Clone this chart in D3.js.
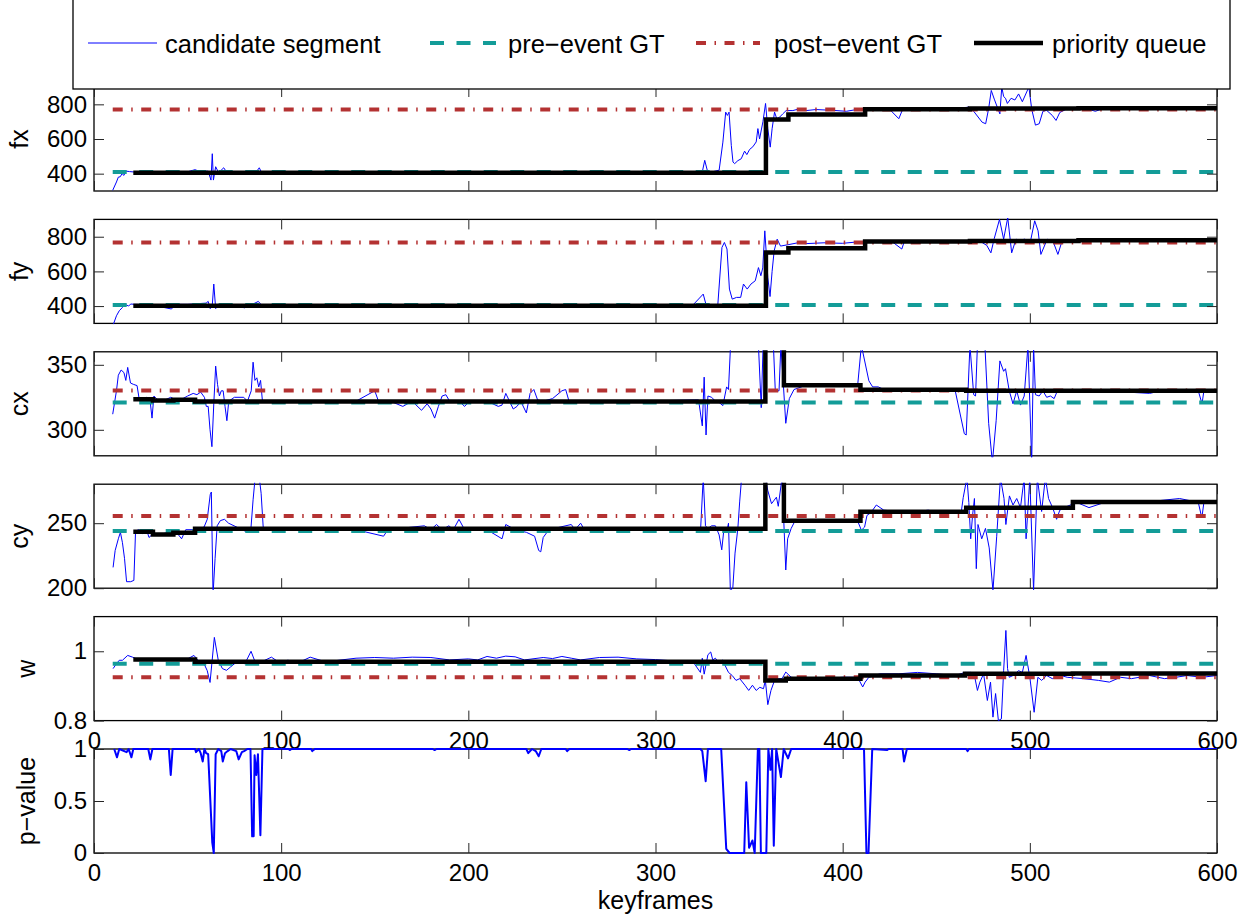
<!DOCTYPE html>
<html><head><meta charset="utf-8">
<script src="https://cdn.jsdelivr.net/npm/d3@7"></script>
<style>
body{margin:0;background:#fff;}
svg{display:block;}
text{font-family:"Liberation Sans",Arial,Helvetica,sans-serif;fill:#000;}
</style>
</head><body>
<svg id="chart" width="1248" height="918"></svg>
<script>
// ---------------- DATA ----------------
const xTicks = [0, 100, 200, 300, 400, 500, 600];
const panelNames = ["fx", "fy", "cx", "cy", "w", "p\u2212value"];
const yDomains = [[300, 900], [300, 900], [280, 360], [200, 280], [0.8, 1.1], [0, 1]];
const yTicks = [[400, 600, 800], [400, 600, 800], [300, 350], [200, 250], [0.8, 1], [0, 0.5, 1]];
const gtRange = [10, 600];
const preGT = [410, 406, 321, 244, 0.964];
const postGT = [770, 767, 330.2, 255.6, 0.925];
const legendLabels = ["candidate segment", "pre\u2212event GT", "post\u2212event GT", "priority queue"];

const candFx = [[10,304],[12,352],[13,380],[14,382],[15,400],[16,390],[17,415],[19,412],[21,410],[30,408],[40,410],[50,411],[54,423],[57,410],[61,415],[62,380],[62.5,363],[63.2,515],[63.8,363],[65,440],[66.4,410],[67.5,415],[69.3,434],[70.8,410],[75,412],[78.4,410],[80.6,405],[83.9,415],[86,400],[88.3,434],[89.3,412],[92,408],[120,410],[160,409],[200,410],[240,409],[280,410],[300,410],[320,409],[325,410],[326.3,477],[328,405],[334,420],[336,582],[337.5,755],[338.4,736],[339.3,755],[340.5,563],[341.4,467],[342.3,458],[344,475],[345.8,486],[347.6,530],[348.8,510],[350.3,540],[352,555],[353.8,583],[354.7,660],[355.6,600],[357.4,700],[358.8,805],[360,659],[361.3,553],[362.3,659],[363.6,755],[364.8,717],[366.3,726],[368,745],[369.8,764],[373.4,764],[376.9,774],[380.5,764],[385.8,770],[395,765],[402,760],[409.8,774],[416,778],[419.5,778],[425,772],[430,717],[432,770],[440,766],[450,772],[460,776],[462,778],[467.5,784],[470,760],[474.5,697],[476.4,688],[478,776],[479.4,880],[481,830],[482.6,784],[484,745],[485,900],[486,845],[487,835],[488,805],[490,835],[492,825],[494,860],[496,815],[499.5,900],[501,772],[503,680],[505,688],[507,760],[509,765],[512,736],[514,707],[516,753],[520,775],[530,776],[535,760],[540,778],[560,776],[580,780],[590,776],[600,778]];

const candFy = [[10.4,296],[12,344],[13.5,373],[15.2,392],[16.3,411],[18.5,400],[19.6,412],[21.7,410],[30,408],[41.4,383],[43.5,410],[50,410],[59.9,417],[61,427],[62.1,385],[63.2,405],[64,527],[65,385],[66.4,410],[69.3,405],[74,402],[80.6,390],[82.8,405],[86,417],[87.8,427],[89.3,408],[92,405],[120,406],[160,405],[200,406],[250,405],[290,406],[320,406],[325.5,469],[327,408],[333.3,408],[335.5,738],[336.8,767],[338.2,729],[339.5,498],[341,440],[343.3,450],[345.5,450],[347,527],[349,498],[351,527],[353.3,546],[355,622],[356.3,575],[357.3,620],[358.4,834],[360,565],[361.2,455],[362.3,600],[363.4,719],[365,786],[366.8,746],[371.3,755],[376,765],[380,760],[390,765],[400,762],[412.6,775],[421.6,778],[426,775],[431.6,729],[433,775],[450,775],[470.1,775],[474,770],[477,750],[479.2,707],[481,790],[483.8,900],[486,786],[488.2,910],[490.3,707],[492.6,786],[494.8,777],[497,786],[500.4,777],[502.6,892],[504.4,834],[505.9,698],[509.3,786],[512.7,765],[515,698],[517.2,775],[534,775],[560,778],[583,790],[585,778],[600,778]];

const candCx = [[10,312],[12,330],[13,342],[14.5,346],[16,344],[17,338],[18,348],[19.5,336],[21,335],[23,334],[24,325],[26,323],[28,325],[30,322],[31,309],[32,326],[34,323],[38,323],[41,325],[45,322],[50,326],[53,328],[55,327],[57,329],[59,325],[60,318],[61,318],[62,300],[63,287],[64,320],[65,349],[66,335],[67,326],[68,330],[69,330],[70,318],[71,307],[72,322],[75,325],[80,325],[82,322],[84,330],[85,352],[86,338],[87,340],[88,333],[89,338],[90,322],[100,322],[120,321],[140,322],[150,330],[152,322],[160,321],[165,318],[170,322],[175,315],[178,320],[180,316],[182,309],[184,318],[186,326],[188,327],[190,322],[195,322],[198,318],[200,321],[210,322],[216,318],[218,319],[220,328],[222,322],[224,316],[226,318],[228,322],[231,313],[233,328],[235,331],[237,323],[240,322],[245,324],[250,330],[252,331],[254,321],[260,322],[280,321],[292,322],[321,323],[323,323],[325,303],[326,340.5],[327,296],[328,326],[330,325],[332,322],[334,321],[336,318.6],[338,333],[339,331],[340,362],[342.5,365],[350,365],[355,365],[356.5,317],[357.5,365],[360,365],[363,365],[364,330],[366,330],[367,365],[369.6,305],[371.5,324],[374,331],[378,333],[381,335],[390,334],[400,334],[408,334],[410,365],[414,337.7],[416,333],[419,333],[422,331],[430,331],[450,330.5],[460,331],[465,297],[466,296],[468,365],[470,327],[471,326],[472,365],[476,365],[478,305],[480,275],[482,307],[484,353],[486,345],[487,347],[489,330],[491,320],[493,330],[495,319],[497,326],[499,365],[501,275],[502,365],[503,327],[505,326],[507,330],[509,325],[511,326],[513,324],[515,331],[520,330.5],[540,330],[564,328],[570,330],[580,329],[590,330],[592,320],[593,330],[600,330]];

const candCy = [[10.2,216],[11.3,229],[13,238],[14.1,243],[15.2,235],[16.3,223],[17.4,205],[19.6,205],[21.3,206],[22.2,244],[23.9,245],[26,242],[28.3,244],[29.4,239],[31.6,242],[37,242],[43.5,244],[46.8,238],[49,245],[54.5,245],[58.8,247],[60.5,253],[62.1,272],[62.7,274],[63.6,195],[64.7,223],[65.8,248],[67.5,252],[69.7,253],[71.9,250],[80.6,244],[82.8,243],[83.9,247],[85,268],[86.1,285],[88.3,285],[89.3,273],[90.4,247],[91.5,246],[100,245],[120,245],[140,245],[154.7,240],[157,245],[176.5,248],[180,245],[183,249],[186,245],[189.6,248],[192,245],[195,253],[198,245],[210,245],[218,238],[220,249],[225,245],[231,243],[235.4,240],[237.6,229],[238.7,228],[240,239],[243,245],[255,249],[257,245],[260,250],[262,245],[280,245],[292,246],[323,246],[324,242.6],[325.5,285],[326.7,248],[328,246],[330,248],[332,248],[334,241],[335.4,229.5],[336.6,246],[338,243],[339,250],[340,198],[341.3,200],[342.5,227],[344,246],[345,267],[346,285],[358.7,285],[360,275],[362,265],[364.6,270],[365.6,263],[367.6,285],[369.6,214],[370.6,238],[372.5,246],[374.5,251.7],[380,251.7],[400,251.7],[408,251.7],[410,244.6],[411.7,247],[413,256],[415,258],[418,264],[420,262],[422,260],[430,259],[433.8,258],[445.7,260],[450,259],[463.4,259],[464.4,269.6],[466.4,285],[467.4,266],[468.4,238],[469.4,256],[470.4,269],[471.4,215],[472.3,249],[474.3,238],[476.3,246],[478.3,231],[480.3,198],[482.3,240],[484.3,285],[486.2,269],[487.2,249],[489.1,271],[491,264],[493,269],[495,262],[497,285],[498,238],[500,285],[502,198],[504,285],[506.3,259],[508.3,285],[510,269],[512.3,261.5],[514.3,253],[516,260],[520,263],[525,266],[531.6,262],[540,266],[560,266],[580,269],[590,266],[591.9,254],[593,266],[600,266]];

const candW = [[10.2,0.95],[12,0.964],[13.5,0.974],[15.2,0.974],[18,0.988],[20.6,0.983],[22.8,0.978],[30,0.978],[35,0.976],[40,0.979],[45,0.977],[50,0.978],[53.4,0.988],[55.5,0.974],[58.8,0.964],[60.5,0.944],[62,0.91],[64.3,1.04],[66.4,0.974],[68.6,0.95],[70.8,0.945],[73,0.955],[76.2,0.969],[80.6,0.964],[83.9,1.0],[86.1,0.969],[89.3,0.969],[94.8,0.983],[100,0.964],[103.5,0.974],[110,0.969],[115.5,0.983],[124,0.969],[130.7,0.974],[140,0.98],[150,0.982],[160,0.98],[170,0.983],[180,0.982],[190,0.975],[200,0.978],[205,0.975],[210,0.985],[215,0.98],[220,0.986],[225,0.984],[230,0.975],[240,0.982],[245,0.979],[250,0.985],[255,0.98],[260,0.975],[270,0.982],[280,0.983],[290,0.978],[300,0.976],[310,0.972],[320,0.97],[324,0.939],[325,0.98],[326,0.934],[328,0.99],[329.5,0.998],[330.6,0.975],[332,0.98],[334,0.965],[336,0.975],[337,0.961],[339,0.939],[341,0.93],[343,0.916],[345,0.921],[347.8,0.902],[349.8,0.887],[351.8,0.902],[353.8,0.887],[355.7,0.896],[357.7,0.892],[358.7,0.916],[360,0.846],[361.7,0.887],[363.6,0.916],[365.6,0.921],[367.6,0.921],[369.6,0.94],[372.5,0.925],[378.5,0.921],[390,0.921],[400,0.925],[408,0.925],[410.7,0.897],[412,0.911],[414,0.925],[420,0.935],[430,0.935],[440,0.939],[450,0.935],[460,0.93],[465.4,0.939],[468.4,0.939],[470.4,0.93],[472,0.887],[473.3,0.911],[475.3,0.935],[477.3,0.858],[479,0.911],[480.3,0.81],[481.7,0.878],[483.2,0.8],[484.8,0.805],[486,0.944],[487.2,1.06],[488.1,0.95],[489,0.925],[491,0.93],[494,0.944],[496,0.939],[498,0.988],[500,0.925],[502.3,0.824],[504.3,0.925],[506.3,0.916],[509,0.93],[512,0.921],[516.7,0.93],[520,0.925],[528.7,0.921],[536.6,0.916],[542.5,0.911],[548.4,0.925],[554.3,0.921],[564,0.93],[572,0.921],[578,0.925],[584,0.93],[592,0.925],[600,0.93]];

const pValue = [[10.8,1],[12.3,0.92],[13.5,1],[17.4,0.97],[18.5,1],[20,0.92],[21,1],[29,1],[30.1,0.9],[31.2,1],[40,1],[41,0.75],[42,1],[54,1],[54.5,0.97],[56,1],[57,0.96],[58.1,0.88],[59,1],[59.9,0.96],[61,0.95],[63.2,0.1],[64,0],[65,0.95],[66.4,1],[68,0.98],[68.8,0.88],[70,0.96],[71.4,0.98],[73,1],[76,0.98],[77.3,0.9],[79,0.97],[80.2,0.98],[82,1],[83.6,1],[84.5,0.16],[85.3,0.16],[85.8,0.94],[86.7,0.75],[87.6,0.95],[88.9,0.17],[90,1],[104,1],[104.6,0.99],[105.5,1],[116,1],[116.6,0.98],[118,1],[181,1],[182,0.99],[183,1],[231,1],[232,0.96],[234,1],[236,0.98],[237.6,0.93],[239,1],[252,1],[252.8,0.98],[254,1],[285,1],[286,0.99],[287,1],[324,1],[325,0.98],[326.8,0.69],[328,1],[335.1,1],[337.8,0.04],[339.6,0],[347.4,0],[348.5,0.68],[350,0.05],[351.8,0.12],[353,0],[354.7,1],[355.5,1],[356.3,0],[359.2,0],[360.3,1],[361.4,0.8],[362.3,1],[363.2,0.07],[364.5,1],[367,0.73],[368.5,1],[370.8,0.91],[372.5,1],[411.4,1],[412.7,0],[413.8,0],[415.8,1],[423.8,0.99],[424.5,1],[432,1],[432.8,0.88],[434.3,1],[466,1],[466.7,0.98],[467.5,1],[600,1]];

const pqFx = [[21,405],[359,713],[371,741],[412,772],[468,776],[526,778],[600,778]];
const pqFy = [[21,402],[359,709],[371,734],[412,772],[468,776],[526,780],[600,780]];
const pqCx = [[21,323.5],[31.5,322.5],[42.4,323.2],[54,321.8],[358.7,375],[368.6,334.3],[409.5,330.8],[466,330],[600,330]];
const pqCy = [[21,243.4],[31.5,241.3],[42.4,242.6],[54,245.7],[358.7,295],[368.6,251.8],[409.5,258.8],[466,261.8],[523,266.4],[600,266.4]];
const pqW = [[21,0.976],[54,0.970],[358.7,0.916],[369.6,0.921],[409.5,0.930],[465.4,0.935],[523,0.936],[600,0.936]];

// ---------------- LAYOUT / STYLE ----------------
const W = 1248, H = 918;
const plotLeft = 94, plotRight = 1217;
const panelTop0 = 87, panelStep = 132.4, panelH = 104;
const tickLen = 10;
const fontSize = 24;
const C_BLUE = "#0000ff", C_TEAL = "#139c98", C_RED = "#b43232", C_BLACK = "#000";
const DASH_TEAL = "14,12.5", DASH_RED = "10,8.5,1.5,8.5";

const cands = [candFx, candFy, candCx, candCy, candW];
const pqs = [pqFx, pqFy, pqCx, pqCy, pqW];

const svg = d3.select("#chart");
svg.append("rect").attr("width", W).attr("height", H).attr("fill", "#fff");

const x = d3.scaleLinear().domain([0, 600]).range([plotLeft, plotRight]);
const fmt = d => String(d);

panelNames.forEach((name, i) => {
  const top = panelTop0 + i * panelStep;
  const bottom = top + panelH;
  const y = d3.scaleLinear().domain(yDomains[i]).range([bottom, top]);
  const g = svg.append("g");

  // frame first, data drawn over it (lines at the limits cover the border)
  g.append("rect").attr("x", plotLeft).attr("y", top)
    .attr("width", plotRight - plotLeft).attr("height", panelH)
    .attr("fill", "none").attr("stroke", "#000").attr("stroke-width", 1.3);

  svg.append("clipPath").attr("id", "clip" + i)
    .append("rect").attr("x", plotLeft).attr("y", top - 1.5)
    .attr("width", plotRight - plotLeft).attr("height", panelH + 3);

  const data = g.append("g").attr("clip-path", `url(#clip${i})`);
  const line = d3.line().x(d => x(d[0])).y(d => y(d[1]));

  if (i < 5) {
    data.append("path").datum(cands[i]).attr("d", line)
      .attr("fill", "none").attr("stroke", C_BLUE).attr("stroke-width", 1)
      .attr("stroke-linejoin", "round");
    data.append("path").datum(gtRange.map(k => [k, preGT[i]])).attr("d", line)
      .attr("fill", "none").attr("stroke", C_TEAL).attr("stroke-width", 4)
      .attr("stroke-dasharray", DASH_TEAL);
    data.append("path").datum(gtRange.map(k => [k, postGT[i]])).attr("d", line)
      .attr("fill", "none").attr("stroke", C_RED).attr("stroke-width", 4)
      .attr("stroke-dasharray", DASH_RED);
    data.append("path").datum(pqs[i]).attr("d", line.curve(d3.curveStepAfter))
      .attr("fill", "none").attr("stroke", C_BLACK).attr("stroke-width", 4.5);
  } else {
    data.append("path").datum(pValue).attr("d", line)
      .attr("fill", "none").attr("stroke", C_BLUE).attr("stroke-width", 2)
      .attr("stroke-linejoin", "round");
  }

  // axes (MATLAB style inward ticks, mirrored)
  const showX = (i >= 4);
  const left = g.append("g").attr("transform", `translate(${plotLeft},0)`)
    .call(d3.axisLeft(y).tickValues(yTicks[i]).tickFormat(fmt).tickSize(-tickLen).tickSizeOuter(0).tickPadding(7));
  const right = g.append("g").attr("transform", `translate(${plotRight},0)`)
    .call(d3.axisRight(y).tickValues(yTicks[i]).tickFormat("").tickSize(-tickLen).tickSizeOuter(0));
  const topAx = g.append("g").attr("transform", `translate(0,${top})`)
    .call(d3.axisTop(x).tickValues(xTicks).tickFormat("").tickSize(-tickLen).tickSizeOuter(0));
  const botAx = g.append("g").attr("transform", `translate(0,${bottom})`)
    .call(d3.axisBottom(x).tickValues(xTicks).tickFormat(showX ? fmt : "").tickSize(-tickLen).tickSizeOuter(0).tickPadding(11));
  [left, right, topAx, botAx].forEach(a => {
    a.select(".domain").remove();
    a.selectAll(".tick line").attr("stroke", "#262626").attr("stroke-width", 1);
    a.selectAll("text").attr("font-size", fontSize).attr("font-family", '"Liberation Sans",Arial,sans-serif').attr("fill", "#000");
  });

  // y label positioned left of the widest tick label
  let maxW = 0;
  left.selectAll("text").each(function () { maxW = Math.max(maxW, this.getComputedTextLength()); });
  const lx = plotLeft - 7 - maxW - 19;
  g.append("text").attr("transform", `translate(${lx},${(top + bottom) / 2}) rotate(-90)`)
    .attr("text-anchor", "middle").attr("font-size", fontSize + 1).text(name);
});

// x label
svg.append("text").attr("x", x(300)).attr("y", 909).attr("text-anchor", "middle")
  .attr("font-size", fontSize + 1).text("keyframes");

// legend
const lg = svg.append("g");
lg.append("rect").attr("x", 73).attr("y", -5).attr("width", 1157).attr("height", 94)
  .attr("fill", "#fff").attr("stroke", "#000").attr("stroke-width", 1.3);
const legY = 43, legTextY = 53;
const legItems = [
  {x0: 88, x1: 157, tx: 165, color: C_BLUE, w: 1, dash: null},
  {x0: 430, x1: 496, tx: 508, color: C_TEAL, w: 4, dash: DASH_TEAL},
  {x0: 696, x1: 760, tx: 774, color: C_RED, w: 4, dash: DASH_RED},
  {x0: 974, x1: 1043, tx: 1052, color: C_BLACK, w: 4.5, dash: null}
];
legItems.forEach((it, k) => {
  const ln = lg.append("line").attr("x1", it.x0).attr("x2", it.x1).attr("y1", legY).attr("y2", legY)
    .attr("stroke", it.color).attr("stroke-width", it.w);
  if (it.dash) ln.attr("stroke-dasharray", it.dash);
  lg.append("text").attr("x", it.tx).attr("y", legTextY).attr("font-size", fontSize + 1.5).text(legendLabels[k]);
});
</script>
</body></html>
